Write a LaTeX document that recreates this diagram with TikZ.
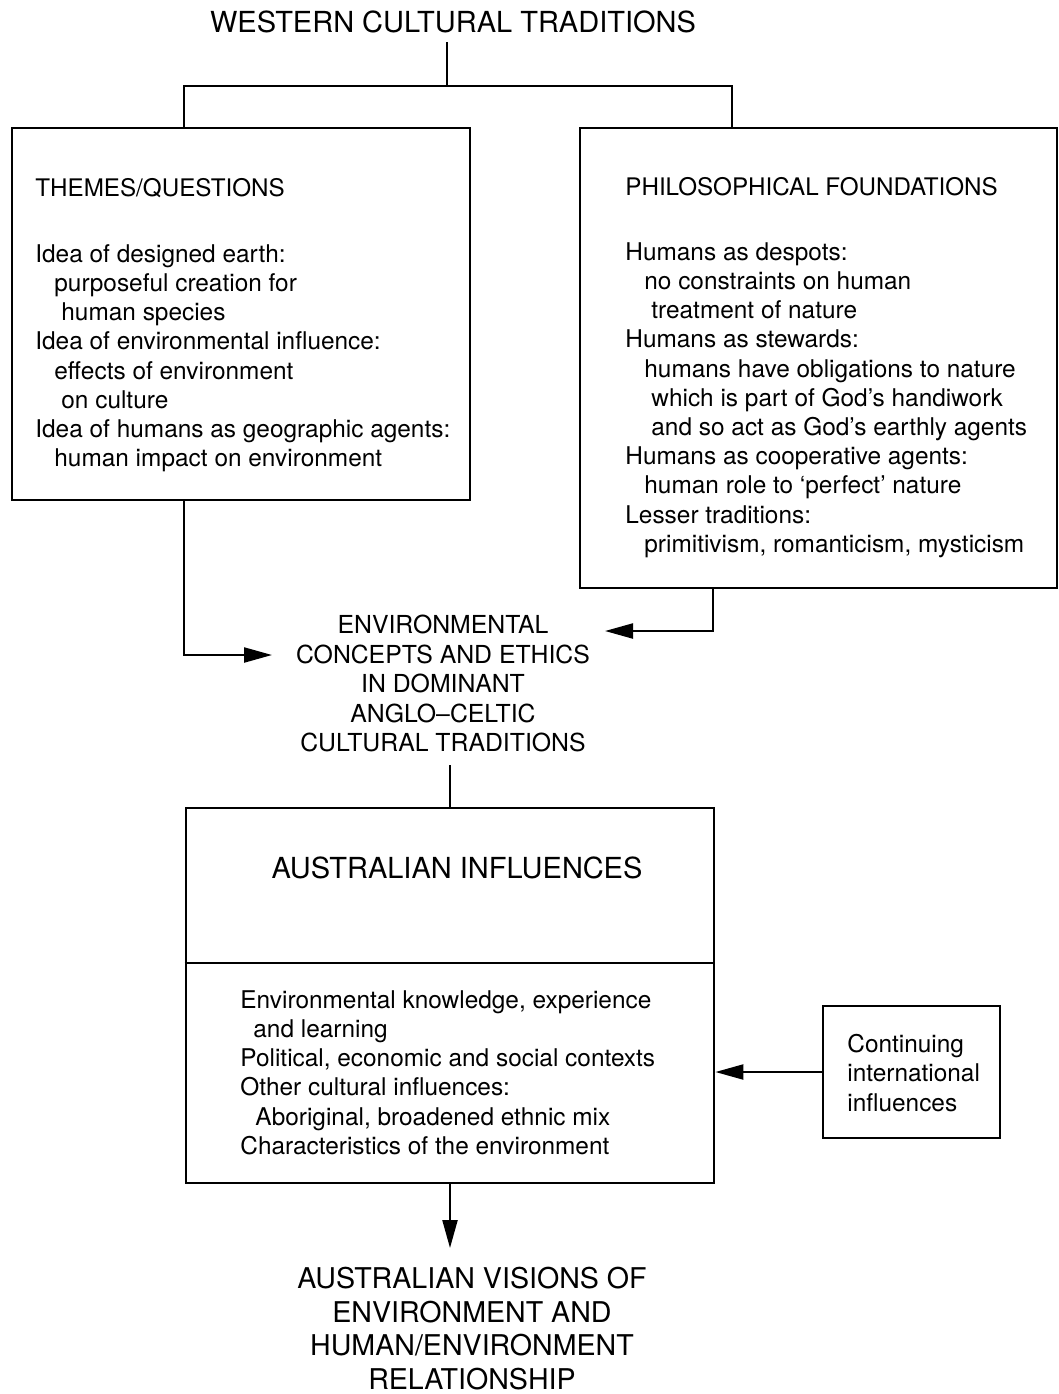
\documentclass[tikz,border=0pt]{standalone}
\usepackage{fontspec}
\setmainfont{TeX Gyre Heros}
\usetikzlibrary{arrows.meta,positioning}
\tikzset{
    box/.style={draw, line width=1.4pt, inner sep=0pt},
    link/.style={line width=1.1pt},
    arr/.style={link, -{Triangle[length=14pt,width=7.5pt]}},
    bodytxt/.style={align=left, inner sep=0pt, anchor=north west,
        font=\fontsize{12.2}{14.6}\selectfont},
    headtxt/.style={inner sep=0pt, anchor=base west, font=\fontsize{12.1}{14}\selectfont},
    captxt/.style={align=center, inner sep=0pt}
}
\newcommand{\ia}{\hspace*{9.5pt}}
\newcommand{\ib}{\hspace*{13pt}}
\begin{document}
\begin{tikzpicture}[x=0.5pt,y=-0.5pt]
\useasboundingbox (0,0) rectangle (1059,1394);
% top of the tree
\node[captxt, anchor=base, font=\fontsize{14.5}{17}\selectfont] (wct) at (453,32) {WESTERN CULTURAL TRADITIONS};
\coordinate (split) at (447,86);
\coordinate (lleg) at (184,86);
\coordinate (rleg) at (732,86);
\node[box, minimum width=229pt, minimum height=186pt] (themes) at (241,314) {};
\node[box, minimum width=238.5pt, minimum height=230pt] (philo) at (818.5,358) {};
\draw[link] (split |- 0,42) -- (split);
\draw[link] (themes.north -| lleg) -- (lleg) -- (rleg) -- (rleg |- philo.north);
% themes
\node[headtxt] (themeshead) at (35,196) {THEMES/QUESTIONS};
\node[bodytxt] (themestxt) at (35,244) {Idea of designed earth:\\
\ia purposeful creation for\\
\ib human species\\
Idea of environmental influence:\\
\ia effects of environment\\
\ib on culture\\
Idea of humans as geographic agents:\\
\ia human impact on environment};
% philosophy
\node[headtxt] (philohead) at (625,195) {PHILOSOPHICAL FOUNDATIONS};
\node[bodytxt] (philotxt) at (625,242) {Humans as despots:\\
\ia no constraints on human\\
\ib treatment of nature\\
Humans as stewards:\\
\ia humans have obligations to nature\\
\ib which is part of God's handiwork\\
\ib and so act as God's earthly agents\\
Humans as cooperative agents:\\
\ia human role to `perfect' nature\\
Lesser traditions:\\
\ia primitivism, romanticism, mysticism};
% ethics
\node[captxt, anchor=north, font=\fontsize{12.4}{14.7}\selectfont] (ethics) at (443,615) {ENVIRONMENTAL\\
CONCEPTS AND ETHICS\\
IN DOMINANT\\
ANGLO--CELTIC\\
CULTURAL TRADITIONS};
\coordinate (ein) at (272,655);
\coordinate (eout) at (605,631);
\draw[arr] (themes.south -| lleg) |- (ein);
\draw[arr] (philo.south -| 713,0) |- (eout);
% australian influences
\node[box, minimum width=264pt, minimum height=187.5pt] (aus) at (450,995.5) {};
\draw[link] (aus.north |- 0,765) -- (aus.north);
\draw[box] (aus.west |- 0,963) -- (aus.east |- 0,963);
\node[captxt, anchor=base, font=\fontsize{14.5}{17}\selectfont] (aushead) at (457,878) {AUSTRALIAN INFLUENCES};
\node[bodytxt] (austxt) at (240,990) {Environmental knowledge, experience\\
\hspace*{6.5pt}and learning\\
Political, economic and social contexts\\
Other cultural influences:\\
\hspace*{7.5pt}Aboriginal, broadened ethnic mix\\
Characteristics of the environment};
\node[box, minimum width=88.5pt, minimum height=66pt] (cont) at (911.5,1072) {};
\node[bodytxt] (conttxt) at (847,1034) {Continuing\\international\\influences};
\draw[arr] (cont.west) -- (cont.west -| aus.east);
% visions
\node[captxt, anchor=north, font=\fontsize{14.3}{16.8}\selectfont] (visions) at (472,1267) {AUSTRALIAN VISIONS OF\\
ENVIRONMENT AND\\
HUMAN/ENVIRONMENT\\
RELATIONSHIP};
\draw[arr] (aus.south) -- (aus.south |- 0,1248);
\end{tikzpicture}
\end{document}
